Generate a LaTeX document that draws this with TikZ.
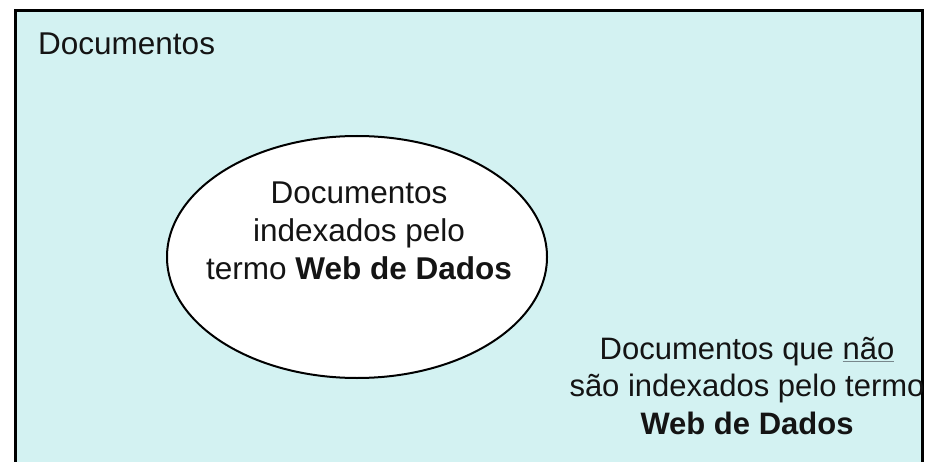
\documentclass[tikz,border=0pt]{standalone}
\usepackage{fontspec}
\setmainfont{Liberation Sans}
\usetikzlibrary{shapes.geometric}
\definecolor{bgcyan}{RGB}{211,242,242}
\definecolor{txt}{RGB}{20,20,20}
\definecolor{ulgray}{RGB}{120,135,140}
\newcommand{\grayul}[1]{\textcolor{ulgray}{$\underline{\hbox{\textcolor{txt}{#1}}}$}}
\tikzset{
  lbl/.style={text=txt, font=\fontsize{31.5}{38}\selectfont, inner sep=0pt},
  setshape/.style={draw=black, line width=2pt, fill=white, ellipse,
    minimum width=380pt, minimum height=242pt, inner sep=0pt}
}
\begin{document}
\begin{tikzpicture}[x=1pt,y=-1pt]
\useasboundingbox (0,0) rectangle (925,462);
\fill[white] (0,0) rectangle (925,462);
\fill[bgcyan] (15,11) rectangle (922,462);
\draw[black, line width=3pt] (15,462) -- (15,11) -- (922,11) -- (922,462);
\node[lbl, anchor=base west] (univ) at (38,55) {Documentos};
\node[setshape] (set) at (357,257) {};
\node[lbl, align=center] (inside) at (359,231)
  {Documentos\\indexados pelo\\termo \textbf{Web de Dados}};
\node[lbl, align=center, font=\fontsize{31}{37.5}\selectfont] (outside) at (747,386)
  {Documentos que \grayul{não}\\são indexados pelo termo\\\textbf{Web de Dados}};
\end{tikzpicture}
\end{document}
